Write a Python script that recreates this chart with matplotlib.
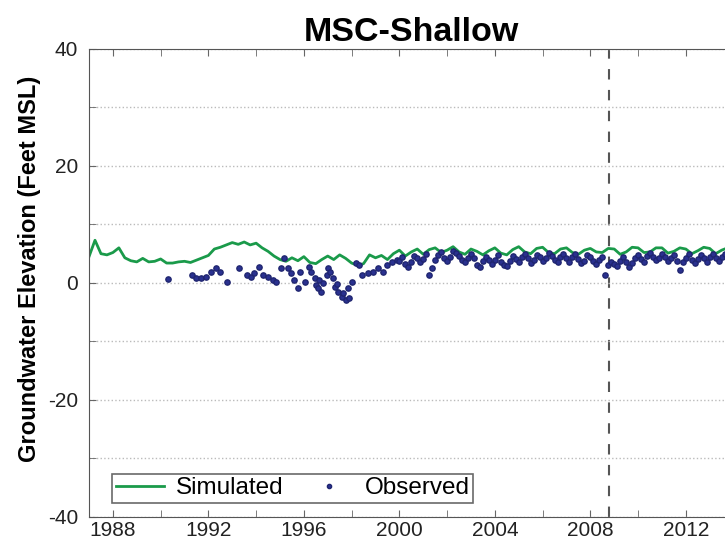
import numpy as np
import matplotlib
matplotlib.use("Agg")
import matplotlib.pyplot as plt
from matplotlib.ticker import MultipleLocator

plt.rcParams['font.family'] = ['Liberation Sans', 'DejaVu Sans']
plt.rcParams['axes.unicode_minus'] = False

# simulated heads, quarterly from 1987.0 to 2014.0
sim_start = 1987.0
sim_values = [
    4.5, 7.3, 5.0, 4.8,   # 1987
    5.2, 6.0, 4.3, 3.8,   # 1988
    3.6, 4.2, 3.6, 3.7,   # 1989
    4.1, 3.4, 3.4, 3.6,   # 1990
    3.7, 3.5, 3.9, 4.3,   # 1991
    4.7, 5.8, 6.1, 6.5,   # 1992
    6.9, 6.6, 7.0, 6.5,   # 1993
    6.8, 6.0, 5.4, 4.6,   # 1994
    4.0, 3.7, 4.3, 3.8,   # 1995
    4.5, 3.5, 3.3, 4.0,   # 1996
    4.6, 4.0, 4.8, 4.2,   # 1997
    3.4, 3.0, 3.3, 4.8,   # 1998
    4.3, 4.7, 4.0, 5.0,   # 1999
    5.6, 4.6, 5.3, 5.8,   # 2000
    4.9, 5.7, 6.0, 5.2,   # 2001
    5.6, 6.2, 5.3, 4.9,   # 2002
    5.8, 5.4, 4.8, 5.5,   # 2003
    6.0, 5.1, 4.8, 5.7,   # 2004
    6.2, 5.3, 5.0, 5.9,   # 2005
    6.1, 5.2, 5.0, 5.8,   # 2006
    6.0, 5.2, 4.9, 5.6,   # 2007
    5.9, 5.3, 5.2, 5.9,   # 2008
    5.8, 4.9, 5.3, 6.1,   # 2009
    6.0, 5.2, 5.3, 6.0,   # 2010
    6.0, 5.1, 5.4, 6.0,   # 2011
    5.8, 5.0, 5.5, 6.1,   # 2012
    5.9, 5.0, 5.6, 6.0,   # 2013
    5.8,                  # 2014
]

# early observations (irregular dates)
obs_early_years = [
    1990.3, 1991.3, 1991.5, 1991.7, 1991.9, 1992.1, 1992.3, 1992.5, 1992.8,
    1993.3, 1993.6, 1993.8, 1993.9, 1994.1, 1994.3, 1994.5, 1994.7, 1994.85,
    1995.05, 1995.15, 1995.35, 1995.45, 1995.6, 1995.75, 1995.85,
    1996.05, 1996.2, 1996.3, 1996.45, 1996.5, 1996.6, 1996.65, 1996.7, 1996.8, 1996.95,
    1997.0, 1997.1, 1997.2, 1997.3, 1997.4, 1997.45, 1997.6, 1997.65, 1997.75, 1997.85, 1997.9,
    1998.0, 1998.2, 1998.3, 1998.45, 1998.7, 1998.9, 1999.1, 1999.3, 1999.5, 1999.7, 1999.9,
]
obs_early_values = [
    0.7, 1.4, 0.9, 0.9, 1.1, 1.9, 2.6, 1.9, 0.2,
    2.6, 1.4, 1.0, 1.7, 2.7, 1.4, 1.0, 0.5, 0.2,
    2.6, 4.3, 2.6, 1.7, 0.5, -0.9, 1.9,
    0.2, 2.7, 1.9, 0.9, -0.3, -0.9, 0.5, -1.5, 0.0, 1.4,
    2.6, 1.8, 0.9, -0.7, -0.2, -1.5, -2.4, -1.8, -2.9, -0.9, -2.5,
    0.2, 3.4, 3.0, 1.4, 1.7, 1.9, 2.6, 1.9, 3.0, 3.6, 4.0,
]

# regular observations, 8 per year from 2000 to 2013
obs_late_start = 2000.0
obs_late_values = [
    3.8, 4.5, 3.2, 2.8, 3.6, 4.6, 4.2, 3.5,   # 2000
    4.1, 5.0, 1.4, 2.6, 3.9, 4.8, 5.3, 4.2,   # 2001
    3.7, 4.4, 5.5, 5.2, 4.6, 4.0, 3.6, 4.3,   # 2002
    4.9, 4.2, 3.1, 2.8, 3.8, 4.5, 3.9, 3.3,   # 2003
    4.0, 4.7, 3.6, 3.0, 2.9, 3.8, 4.6, 4.1,   # 2004
    3.5, 4.4, 5.0, 4.2, 3.4, 3.9, 4.8, 4.5,   # 2005
    3.7, 4.3, 5.1, 4.6, 3.9, 3.5, 4.4, 4.9,   # 2006
    4.2, 3.6, 4.5, 5.0, 4.1, 3.4, 3.8, 4.7,   # 2007
    4.4, 3.7, 3.2, 4.0, 4.5, 1.4, 3.0, 3.6,   # 2008
    3.3, 2.9, 3.8, 4.4, 3.5, 2.8, 3.4, 4.2,   # 2009
    4.8, 4.1, 3.6, 4.6, 5.2, 4.5, 3.9, 4.3,   # 2010
    4.9, 4.4, 3.7, 4.2, 4.8, 3.8, 2.2, 3.5,   # 2011
    4.3, 4.9, 4.0, 3.4, 4.1, 4.7, 4.2, 3.6,   # 2012
    4.5, 5.0, 4.3, 3.7, 4.4, 4.9, 4.1, 3.8,   # 2013
]

split_year = 2008.8

sim_years = sim_start + 0.25 * np.arange(len(sim_values))
obs_late_years = obs_late_start + 0.125 * np.arange(len(obs_late_values))
obs_years = np.concatenate([obs_early_years, obs_late_years])
obs_values = np.concatenate([obs_early_values, obs_late_values])

fig = plt.figure(figsize=(7.25, 5.43), dpi=100)
ax = fig.add_axes([0.1228, 0.0479, 0.889, 0.862])

ax.plot(sim_years, sim_values, color='#1a9a4a', lw=2, label='Simulated', zorder=2)
ax.plot(obs_years, obs_values, 'o', color='#2a3190', mec='#1f2570', ms=3.8,
        label='Observed', zorder=3)
ax.axvline(split_year, color='#555555', ls=(0, (5, 5)), lw=1.5, zorder=1)

ax.set_xlim(1987.0, 2014.0)
ax.set_ylim(-40, 40)
ax.xaxis.set_major_locator(MultipleLocator(4))
ax.xaxis.set_minor_locator(MultipleLocator(2))
ax.yaxis.set_major_locator(MultipleLocator(20))
ax.yaxis.set_minor_locator(MultipleLocator(10))
ax.tick_params(which='both', direction='in', top=True, right=False,
               labelsize=15, colors='#666666', labelcolor='#222222')
ax.tick_params(axis='x', pad=3)
ax.tick_params(axis='y', pad=8)
ax.tick_params(which='major', length=5)
ax.tick_params(which='minor', length=5)
ax.grid(True, which='both', axis='y', color='#bbbbbb', ls=':', lw=1)
for s in ax.spines.values():
    s.set_color('#555555')

ax.set_title('MSC-Shallow', fontsize=24.5, fontweight='bold', pad=6)
ax.set_ylabel('Groundwater Elevation (Feet MSL)', fontsize=17, fontweight='bold')
ax.yaxis.set_label_coords(-0.074, 0.53)

leg = ax.legend(loc='lower left', ncol=2, fontsize=17.5, frameon=True, fancybox=False,
                edgecolor='#444444', borderpad=0.15, handlelength=2.0,
                handletextpad=0.45, columnspacing=0.9, markerscale=0.8,
                borderaxespad=0, bbox_to_anchor=(0.036, 0.03))
leg.get_frame().set_linewidth(1.2)

fig.savefig('out.png', dpi=100)
